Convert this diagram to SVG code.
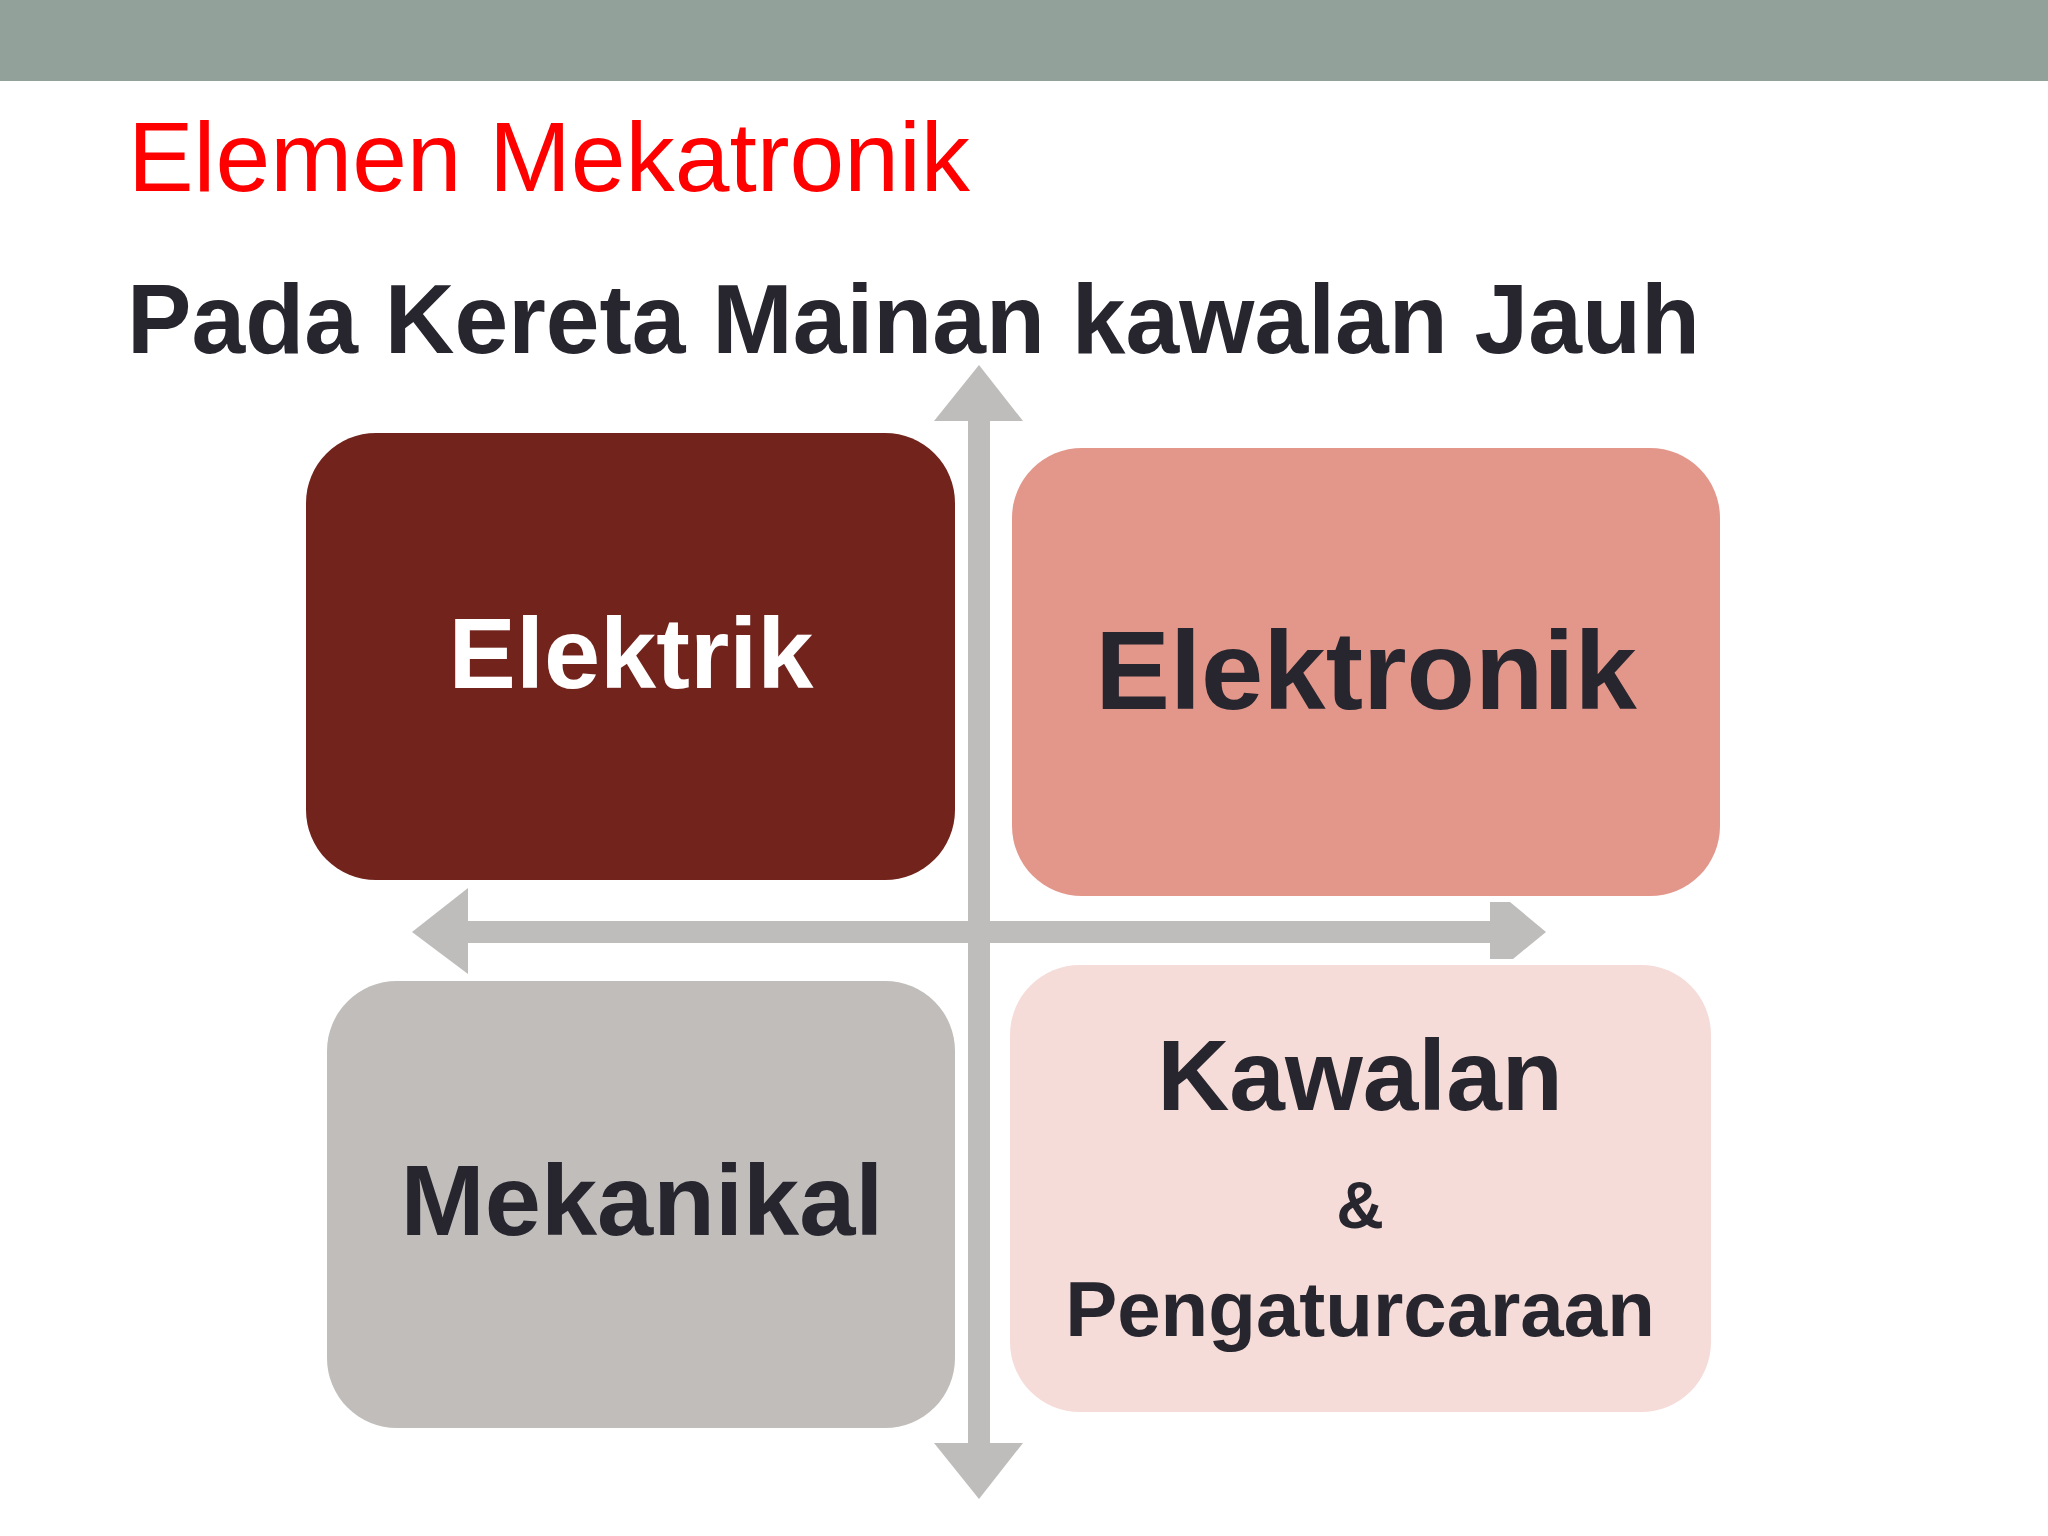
<svg xmlns="http://www.w3.org/2000/svg" width="2048" height="1536" viewBox="0 0 2048 1536">
<style>
.lbl{font-family:"Liberation Sans",Arial,sans-serif;font-weight:bold;text-anchor:middle}
.dark{fill:#27262f}
.arr{fill:#bfbdbb}
</style>
<rect x="0" y="0" width="2048" height="1536" fill="#ffffff"/>
<rect x="0" y="0" width="2048" height="81" fill="#92a29a"/>
<text x="128" y="191" font-family="Liberation Sans, Arial, sans-serif" font-size="98" fill="#ff0000" textLength="842" lengthAdjust="spacingAndGlyphs">Elemen Mekatronik</text>
<text x="127" y="353" font-family="Liberation Sans, Arial, sans-serif" font-weight="bold" font-size="98" fill="#27262f" textLength="1573" lengthAdjust="spacingAndGlyphs">Pada Kereta Mainan kawalan Jauh</text>
<g id="connectors">
<rect class="arr" x="968" y="420" width="22" height="1024"/>
<polygon class="arr" points="979,365 1023,421 934,421"/>
<polygon class="arr" points="979,1499 1023,1443 934,1443"/>
<rect class="arr" x="467" y="921" width="1024" height="22"/>
<polygon class="arr" points="412,932 468,888 468,974"/>
<polygon class="arr" points="1490,902 1510,902 1546,932 1513,959 1490,959"/>
</g>
<g id="elektrik">
<rect x="306" y="433" width="649" height="447" rx="70" fill="#72231c"/>
<text class="lbl" x="631" y="688" font-size="101" fill="#ffffff">Elektrik</text>
</g>
<g id="elektronik">
<rect x="1012" y="448" width="708" height="448" rx="70" fill="#e3978b"/>
<text class="lbl dark" x="1366" y="709" font-size="112">Elektronik</text>
</g>
<g id="mekanikal">
<rect x="327" y="981" width="628" height="447" rx="70" fill="#c0bdbb"/>
<text class="lbl dark" x="642" y="1235" font-size="101">Mekanikal</text>
</g>
<g id="kawalan">
<rect x="1010" y="965" width="701" height="447" rx="70" fill="#f5dcd8"/>
<text class="lbl dark" x="1360" y="1110" font-size="100">Kawalan</text>
<text class="lbl dark" x="1360" y="1228" font-size="66">&amp;</text>
<text class="lbl dark" x="1360" y="1336" font-size="78">Pengaturcaraan</text>
</g>
</svg>
